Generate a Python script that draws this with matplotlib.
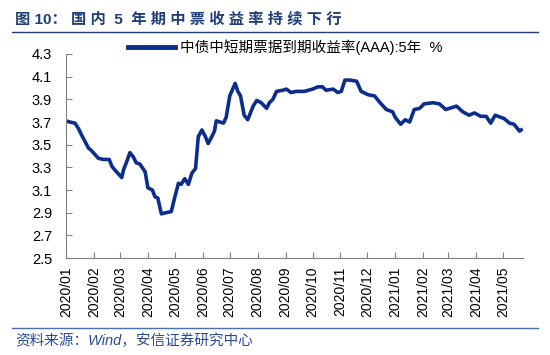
import numpy as np
import matplotlib
matplotlib.use('Agg')
import matplotlib.pyplot as plt
import matplotlib.dates as mdates

plt.rcParams['font.family'] = ['Liberation Sans', 'Noto Sans CJK SC', 'DejaVu Sans']

# days since 2020-01-01 and yield (%)
days = [0, 4, 10, 14, 17, 25, 28, 36, 41, 48, 51, 54, 62, 64, 67, 71, 75, 78, 82,
        88, 91, 96, 99, 102, 106, 111, 117, 121, 125, 128, 132, 136, 140, 144, 147,
        151, 155, 158, 162, 165, 167, 175, 178, 182, 188, 191, 194, 198, 202, 208,
        212, 217, 223, 226, 230, 234, 241, 245, 250, 256, 265, 274, 280, 285, 289,
        297, 302, 306, 310, 315, 323, 328, 336, 343, 348, 356, 363, 366, 372, 377,
        382, 387, 393, 398, 408, 415, 422, 434, 441, 448, 454, 461, 467, 472, 477,
        487, 493, 498, 504, 506]
yields = [3.71, 3.70, 3.69, 3.64, 3.59, 3.47, 3.45, 3.38, 3.37, 3.37, 3.31, 3.28, 3.21,
          3.28, 3.34, 3.43, 3.39, 3.34, 3.33, 3.26, 3.12, 3.10, 3.04, 3.03, 2.89, 2.90,
          2.91, 3.04, 3.16, 3.15, 3.20, 3.15, 3.25, 3.29, 3.57, 3.63, 3.57, 3.51, 3.57,
          3.62, 3.71, 3.69, 3.74, 3.93, 4.04, 3.97, 3.93, 3.76, 3.72, 3.84, 3.89, 3.87,
          3.82, 3.87, 3.90, 3.97, 3.98, 3.99, 3.96, 3.97, 3.97, 3.99, 4.01, 4.01, 3.98,
          3.99, 3.96, 3.97, 4.07, 4.07, 4.06, 3.97, 3.94, 3.93, 3.88, 3.81, 3.79, 3.74,
          3.68, 3.72, 3.70, 3.81, 3.82, 3.86, 3.87, 3.86, 3.81, 3.84, 3.79, 3.76, 3.78,
          3.75, 3.75, 3.69, 3.76, 3.73, 3.69, 3.68, 3.62, 3.63]
series_name = '中债中短期票据到期收益率(AAA):5年  %'
yticks = [2.5, 2.7, 2.9, 3.1, 3.3, 3.5, 3.7, 3.9, 4.1, 4.3]

dates = np.datetime64('2020-01-01') + np.array(days).astype('timedelta64[D]')

title_color = '#1F3E7A'
line_color = '#0C2D8C'

fig = plt.figure(figsize=(5.5, 3.55), dpi=100)
ax = fig.add_axes([0.12, 0.273, 0.831, 0.575])

ax.plot(dates, yields, color=line_color, lw=2.6, label=series_name)

ax.set_ylim(2.5, 4.3)
ax.set_yticks(yticks)
ax.set_yticklabels(['%.1f' % v for v in yticks])
ax.set_xlim(np.datetime64('2020-01-01'), np.datetime64('2021-05-23'))
ax.xaxis.set_major_locator(mdates.MonthLocator())
ax.xaxis.set_major_formatter(mdates.DateFormatter('%Y/%m'))
plt.setp(ax.get_xticklabels(), rotation=90)

for s in ['top', 'right']:
    ax.spines[s].set_visible(False)
for s in ['left', 'bottom']:
    ax.spines[s].set_color('#808080')
ax.tick_params(axis='both', direction='in', color='#808080', length=4, labelsize=10.5,
               labelcolor='black')
ax.tick_params(axis='x', labelsize=10, pad=6)
ax.tick_params(axis='y', pad=10)

leg = ax.legend(loc='lower center', bbox_to_anchor=(0.48, 0.93), frameon=False,
                fontsize=10.5, handlelength=3.2, handletextpad=0.4)
for h in leg.get_lines():
    h.set_linewidth(3.5)

fig.text(0.027, 0.935, '图 10： 国 内  5  年 期 中 票 收 益 率 持 续 下 行', fontsize=11,
         fontweight='bold', color=title_color)
fig.add_artist(plt.Line2D([0.022, 0.978], [0.91, 0.91], color='#1F3E7A', lw=1))
fig.add_artist(plt.Line2D([0.022, 0.978], [0.077, 0.077], color='#4A6FB5', lw=1))
fig.text(0.027, 0.028, '资料来源：Wind，安信证券研究中心', fontsize=10.5, style='italic',
         color='#2A4A9A')

fig.savefig('out.png', dpi=100)
